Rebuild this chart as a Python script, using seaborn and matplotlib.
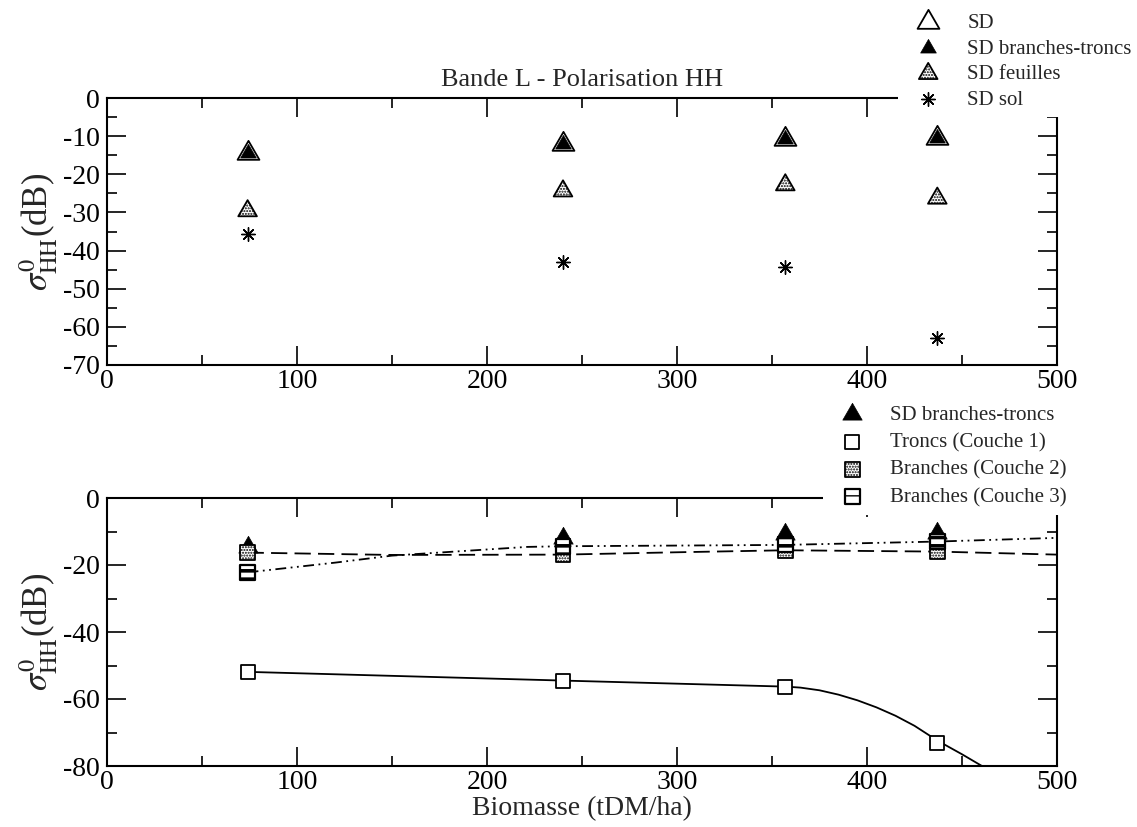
import numpy as np
import pandas as pd
import matplotlib
matplotlib.use("Agg")
import matplotlib.pyplot as plt
import seaborn as sns

# ---------------- data ----------------
biomasse = [74, 240, 357, 437]

# top panel
sd_total = [-14.5, -12.0, -10.8, -10.5]
sd_branches_troncs = [-14.5, -12.0, -10.8, -10.5]
sd_feuilles = [-29.6, -24.4, -22.8, -26.3]
sd_sol = [-35.7, -43.0, -44.2, -62.9]

# bottom panel
troncs = [-51.9, -54.5, -56.3, -73.2]
branches_c2 = [-16.3, -16.9, -15.6, -16.0]
branches_c3 = [-22.2, -14.4, -14.0, -13.0]

# fitted curves drawn in the bottom panel
troncs_curve_x = [74, 240, 357, 365, 375, 385, 395, 405, 415, 425, 437, 450, 462]
troncs_curve_y = [-51.9, -54.5, -56.3, -56.6, -57.4, -58.7, -60.4, -62.5,
                  -65.0, -68.0, -72.4, -76.5, -80.5]
c2_curve_x = [74, 150, 240, 300, 357, 437, 500]
c2_curve_y = [-16.3, -17.0, -16.9, -16.2, -15.6, -16.0, -16.9]
c3_curve_x = [74, 120, 150, 221, 240, 300, 357, 437, 500]
c3_curve_y = [-22.2, -19.3, -17.2, -14.6, -14.4, -14.2, -14.0, -13.0, -11.9]

top_title = "Bande L - Polarisation HH"
x_label = "Biomasse (tDM/ha)"
y_label = r"$\sigma^{0}_{\mathrm{HH}}$(dB)"
top_labels = ["SD", "SD branches-troncs", "SD feuilles", "SD sol"]
bottom_labels = ["SD branches-troncs", "Troncs (Couche 1)",
                 "Branches (Couche 2)", "Branches (Couche 3)"]

# ---------------- style ----------------
sns.set_style("ticks")
plt.rcParams["font.family"] = ["Liberation Serif", "DejaVu Serif"]
plt.rcParams["mathtext.fontset"] = "stix"
plt.rcParams["axes.unicode_minus"] = False
plt.rcParams["hatch.linewidth"] = 1.0
plt.rcParams["hatch.color"] = "black"

W, H = 1137, 827
fig = plt.figure(figsize=(W / 100, H / 100), dpi=100)
ax1 = fig.add_axes([107 / W, 1 - 365 / H, 950 / W, 267 / H])
ax2 = fig.add_axes([107 / W, 1 - 766 / H, 950 / W, 268 / H])

tri = (3, 0, 0)
ast = (8, 2, 0)

# ---------------- top panel ----------------
df_top = pd.DataFrame({"x": biomasse, "sd": sd_total, "bt": sd_branches_troncs,
                       "f": sd_feuilles, "sol": sd_sol})
sns.scatterplot(data=df_top, x="x", y="sd", ax=ax1, marker=tri, s=330,
                facecolor="white", edgecolor="black", linewidth=1.3,
                label=top_labels[0], legend=False, zorder=3)
sns.scatterplot(data=df_top, x="x", y="bt", ax=ax1, marker=tri, s=170,
                color="black", edgecolor="black", linewidth=0.5,
                label=top_labels[1], legend=False, zorder=4)
sns.scatterplot(data=df_top, x="x", y="f", ax=ax1, marker=tri, s=240,
                facecolor="white", edgecolor="black", linewidth=1.3,
                hatch="......", label=top_labels[2], legend=False, zorder=3)
sns.scatterplot(data=df_top, x="x", y="sol", ax=ax1, marker=ast, s=95,
                color="black", linewidth=1.0,
                label=top_labels[3], legend=False, zorder=3)

ax1.set_xlim(0, 500)
ax1.set_ylim(-70, 0)
ax1.set_xticks(np.arange(0, 501, 100))
ax1.set_xticks(np.arange(0, 501, 50), minor=True)
ax1.set_yticks(np.arange(-70, 1, 10))
ax1.set_yticks(np.arange(-70, 1, 5), minor=True)
ax1.set_title(top_title, fontsize=19, pad=9)
ax1.set_xlabel("")
ax1.set_ylabel(y_label, fontsize=25, labelpad=2)

# ---------------- bottom panel ----------------
df_bot = pd.DataFrame({"x": biomasse, "bt": sd_branches_troncs, "t": troncs,
                       "c2": branches_c2, "c3": branches_c3})
sns.lineplot(x=troncs_curve_x, y=troncs_curve_y, ax=ax2, color="black",
             linewidth=1.3, sort=False, legend=False, zorder=2)
sns.lineplot(x=c2_curve_x, y=c2_curve_y, ax=ax2, color="black",
             linewidth=1.3, sort=False, legend=False, zorder=2,
             linestyle=(0, (9, 4)))
sns.lineplot(x=c3_curve_x, y=c3_curve_y, ax=ax2, color="black",
             linewidth=1.3, sort=False, legend=False, zorder=2,
             linestyle=(0, (6, 2.5, 1, 2.5, 1, 2.5)))

sns.scatterplot(data=df_bot, x="x", y="bt", ax=ax2, marker=tri, s=260,
                color="black", edgecolor="black", linewidth=0.5,
                label=bottom_labels[0], legend=False, zorder=3)
sns.scatterplot(data=df_bot, x="x", y="t", ax=ax2, marker="s", s=115,
                facecolor="white", edgecolor="black", linewidth=1.3,
                label=bottom_labels[1], legend=False, zorder=4)
sns.scatterplot(data=df_bot, x="x", y="c2", ax=ax2, marker="s", s=115,
                facecolor="white", edgecolor="black", linewidth=1.3,
                hatch="......", label=bottom_labels[2], legend=False, zorder=4)
with plt.rc_context({"hatch.linewidth": 2.6}):
    sns.scatterplot(data=df_bot, x="x", y="c3", ax=ax2, marker="s", s=115,
                    facecolor="white", edgecolor="black", linewidth=1.6,
                    hatch="--", label=bottom_labels[3], legend=False, zorder=5)

ax2.set_xlim(0, 500)
ax2.set_ylim(-80, 0)
ax2.set_xticks(np.arange(0, 501, 100))
ax2.set_xticks(np.arange(0, 501, 50), minor=True)
ax2.set_yticks(np.arange(-80, 1, 20))
ax2.set_yticks(np.arange(-80, 1, 10), minor=True)
ax2.set_xlabel(x_label, fontsize=20, labelpad=1)
ax2.set_ylabel(y_label, fontsize=25, labelpad=2)

for ax in (ax1, ax2):
    for sp in ax.spines.values():
        sp.set_visible(True)
        sp.set_linewidth(1.5)
        sp.set_color("black")
    ax.tick_params(which="both", direction="in", top=True, right=True,
                   colors="black", labelsize=20, width=1.2)
    ax.tick_params(which="major", length=14)
    ax.tick_params(which="minor", length=7)
    ax.tick_params(axis="y", which="major", pad=5)
    ax.tick_params(axis="x", which="major", pad=3)
    ax.grid(False)

# ---------------- legends ----------------
fs = 15
h1, l1 = ax1.get_legend_handles_labels()
leg1 = fig.legend(h1, l1, loc="upper left", bbox_to_anchor=(898 / W, 1 - 6 / H),
                  fontsize=fs, frameon=True, framealpha=1, facecolor="white",
                  edgecolor="none", fancybox=False, borderpad=0.35,
                  handlelength=2.2, handletextpad=0.77, labelspacing=0.29,
                  scatterpoints=1, borderaxespad=0)
h2, l2 = ax2.get_legend_handles_labels()
leg2 = fig.legend(h2, l2, loc="upper left", bbox_to_anchor=(823 / W, 1 - 398 / H),
                  fontsize=fs, frameon=True, framealpha=1, facecolor="white",
                  edgecolor="none", fancybox=False, borderpad=0.35,
                  handlelength=2.1, handletextpad=0.77, labelspacing=0.38,
                  scatterpoints=1, borderaxespad=0)

fig.savefig("out.png", dpi=100, facecolor="white")
